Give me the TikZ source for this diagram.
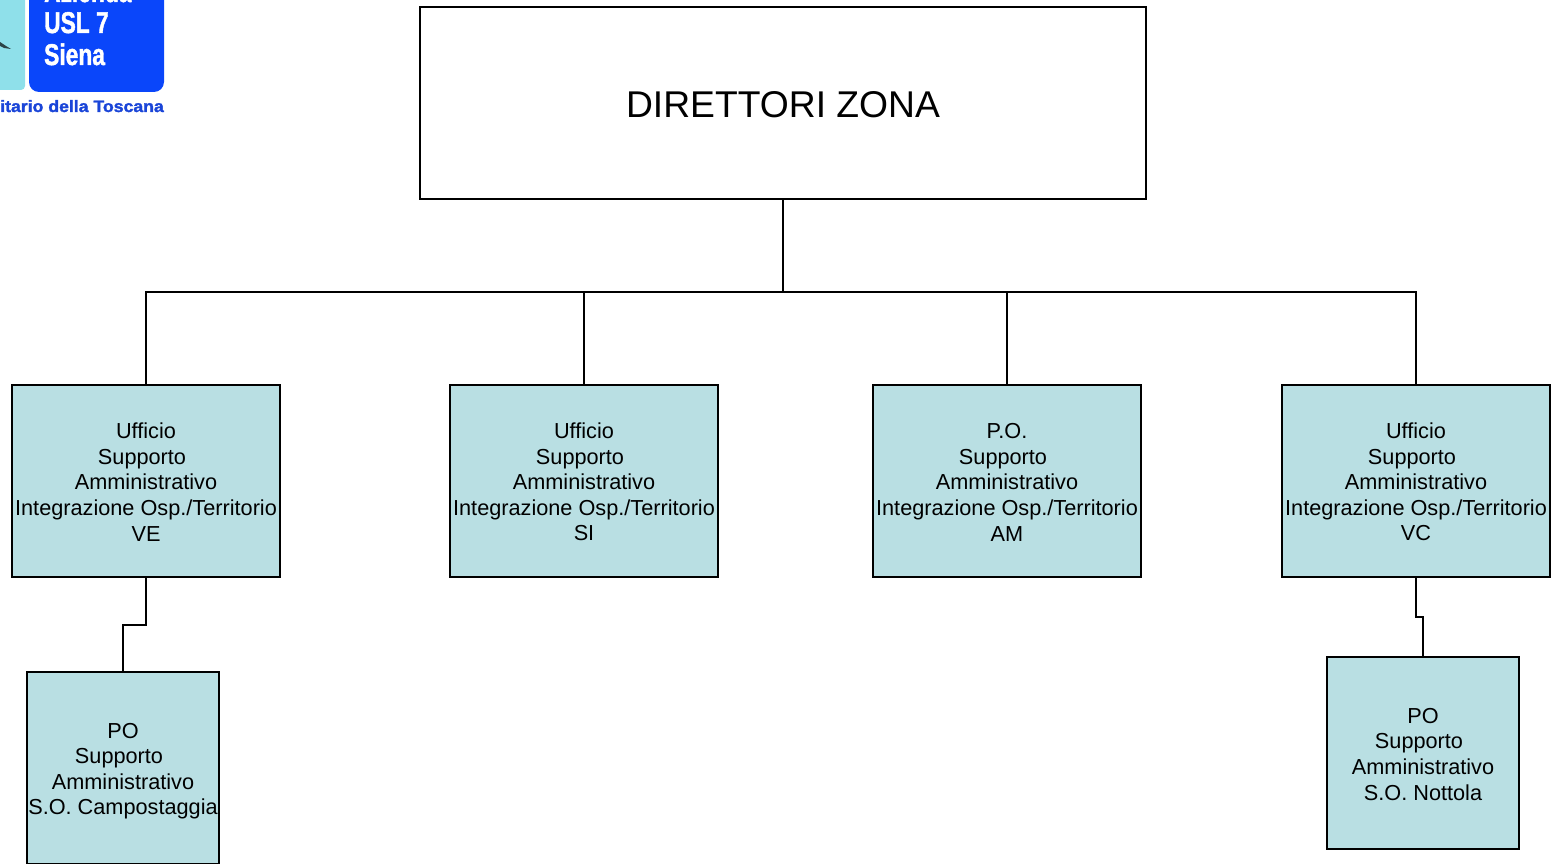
\documentclass[tikz,border=0pt]{standalone}
\usepackage{fontspec}
\setmainfont{Liberation Sans}
\newfontfamily\heavyfont{Liberation Sans}[BoldFeatures={FakeBold=1.6}]
\definecolor{boxfill}{HTML}{B9DFE3}
\definecolor{logoblue}{HTML}{0A46FA}
\definecolor{logocyan}{HTML}{8FE0EA}
\definecolor{logotext}{HTML}{1A45D8}
\tikzset{
  unitbox/.style={draw=black,line width=2.1pt,fill=boxfill,minimum width=268pt,minimum height=192pt,inner sep=0pt,align=center,font=\fontsize{21.7}{25.6}\selectfont},
  pobox/.style={unitbox,minimum width=192pt},
  topbox/.style={draw=black,line width=2.1pt,fill=white,minimum width=726.5pt,minimum height=192pt,inner sep=0pt,font=\fontsize{37.25}{44}\selectfont},
  link/.style={draw=black,line width=2pt},
  logoword/.style={text=white,inner sep=0pt,anchor=base west,xscale=.76,font=\heavyfont\bfseries\fontsize{30}{32}\selectfont},
}
\newcommand{\shifted}[1]{\mbox{#1\hspace{8pt}}}
\newcommand{\lift}[1]{\rule{0pt}{#1}}
\begin{document}
\begin{tikzpicture}[x=1pt,y=-1pt]
\useasboundingbox (0,0) rectangle (1557,864);
% logo
\begin{scope}
\clip (0,0) rectangle (164,120);
\fill[logocyan,rounded corners=4pt] (-20,-20) rectangle (25,90);
\fill[logoblue,rounded corners=10pt] (29,-30) rectangle (164,92);
\fill[black!70!logocyan] (0,42) -- (6,46) -- (11,49) -- (4,48) -- (0,46) -- cycle;
\node[logoword] (logoa) at (44,2) {Azienda};
\node[logoword] (logob) at (44,33) {USL 7};
\node[logoword] (logoc) at (44,65) {Siena};
\node[inner sep=0pt,anchor=base east,text=logotext,xscale=1.07,font=\heavyfont\bfseries\fontsize{16.5}{18}\selectfont] (logod) at (164,112) {itario della Toscana};
\end{scope}
% boxes
\node[topbox] (top) at (783,103) {\lift{29.7pt}DIRETTORI ZONA};
\node[unitbox] (a) at (146,481) {\lift{17.6pt}Ufficio\\\shifted{Supporto}\\Amministrativo\\Integrazione Osp./Territorio\\VE};
\node[unitbox] (b) at (584,481) {\lift{17.6pt}Ufficio\\\shifted{Supporto}\\Amministrativo\\Integrazione Osp./Territorio\\SI};
\node[unitbox] (c) at (1007,481) {\lift{17.6pt}P.O.\\\shifted{Supporto}\\Amministrativo\\Integrazione Osp./Territorio\\AM};
\node[unitbox] (d) at (1416,481) {\lift{17.6pt}Ufficio\\\shifted{Supporto}\\Amministrativo\\Integrazione Osp./Territorio\\VC};
\node[pobox] (e) at (123,768) {\lift{21.6pt}PO\\\shifted{Supporto}\\Amministrativo\\S.O. Campostaggia};
\node[pobox] (f) at (1423,753) {\lift{17.6pt}PO\\\shifted{Supporto}\\Amministrativo\\S.O. Nottola};
% connectors
\coordinate (bus) at (783,292);
\coordinate (ebend) at (146,625);
\coordinate (fbend) at (1416,617);
\draw[link] (top.south) -- (bus) -| (a.north);
\draw[link] (bus) -| (b.north);
\draw[link] (bus) -| (c.north);
\draw[link] (bus) -| (d.north);
\draw[link] (a.south) -- (ebend) -| (e.north);
\draw[link] (d.south) -- (fbend) -| (f.north);
\end{tikzpicture}
\end{document}
